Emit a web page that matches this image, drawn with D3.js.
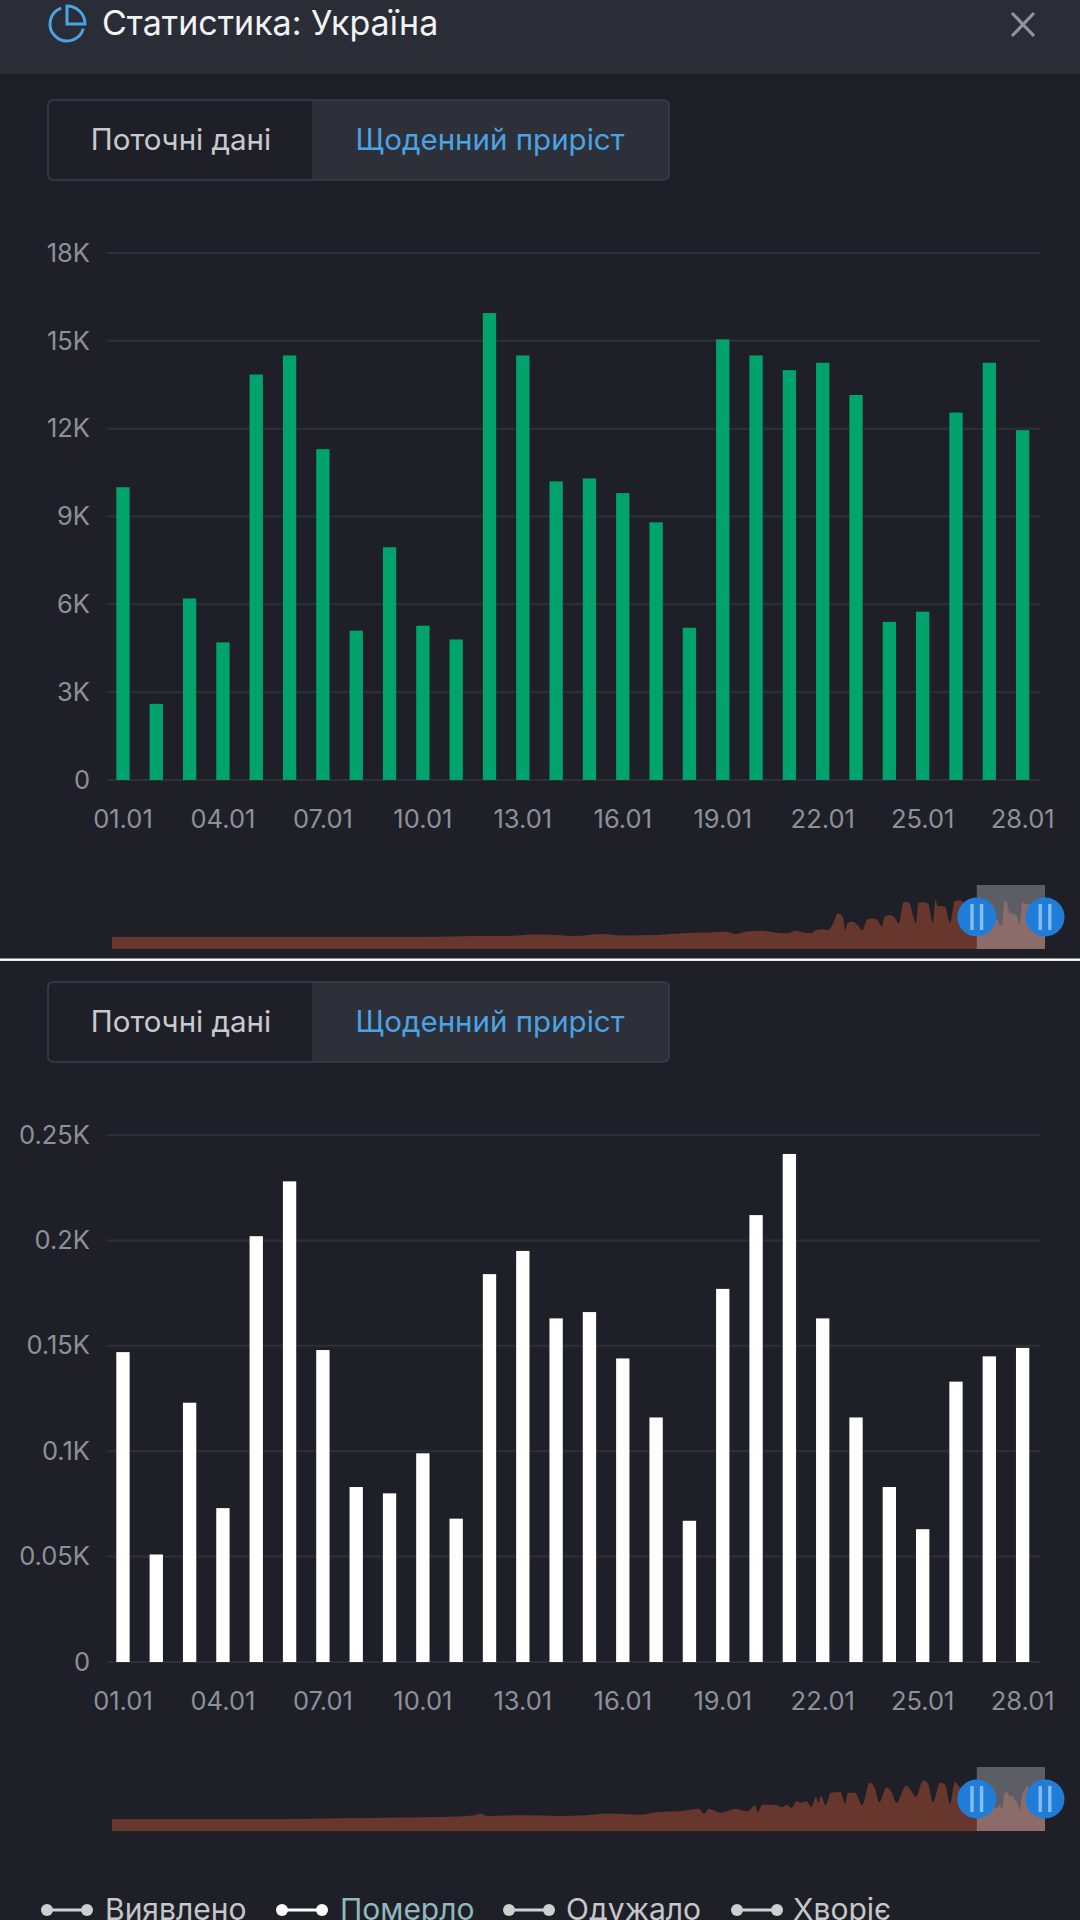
<!DOCTYPE html>
<html>
<head>
<meta charset="utf-8">
<script src="https://cdn.jsdelivr.net/npm/d3@7"></script>
<style>
html, body { margin: 0; padding: 0; background: #1f2027; }
svg { display: block; font-family: Inter, sans-serif; }
.domain { display: none; }
</style>
</head>
<body>
<script>
var days = ["01.01","02.01","03.01","04.01","05.01","06.01","07.01","08.01","09.01","10.01","11.01","12.01","13.01","14.01",
  "15.01","16.01","17.01","18.01","19.01","20.01","21.01","22.01","23.01","24.01","25.01","26.01","27.01","28.01"];
var dayTicks = ["01.01","04.01","07.01","10.01","13.01","16.01","19.01","22.01","25.01","28.01"];

// daily values, thousands
var confirmed = [10.0,2.6,6.2,4.7,13.85,14.5,11.3,5.1,7.95,5.27,4.8,15.95,14.5,10.2,10.3,9.8,8.8,5.2,15.05,14.5,14.0,14.25,13.15,5.4,5.75,12.55,14.25,11.95];
var deaths = [0.147,0.051,0.123,0.073,0.202,0.228,0.148,0.083,0.080,0.099,0.068,0.184,0.195,0.163,0.166,0.144,0.116,0.067,0.177,0.212,0.241,0.163,0.116,0.083,0.063,0.133,0.145,0.149];

var confirmedTicks = [0,3,6,9,12,15,18];
var confirmedLabels = ["0","3K","6K","9K","12K","15K","18K"];
var deathTicks = [0,0.05,0.1,0.15,0.2,0.25];
var deathLabels = ["0","0.05K","0.1K","0.15K","0.2K","0.25K"];

// overview strip before 01.01: day number since the start of the strip, value
var confirmedOverviewDays = [0,100,135,149,162,173,182,190,201,210,224,234,245,252,256,260,267,272,275,278,280,284,287,289,292,294,296,298,300,301,302,304,306,308,310,312,314,316,317,319,321,323,325,327,329,330,331,333,335,337,338,339,342,344,346,348,352];
var confirmedOverview = [0,0,0.1,0.4,0.4,1.1,0.9,0.4,1.3,0.7,0.9,1.6,1.9,2.3,1.3,2.3,2.7,1.9,1.6,1.6,2.7,1.9,1.6,3.0,3.4,3.0,5.9,10.2,8.8,3.0,6.2,6.6,5.2,3.0,7.6,8.0,7.6,4.5,8.5,9.5,8.8,5.9,15.2,15.2,8.8,5.9,14.8,15.2,14.5,6.2,15.9,13.4,13.1,6.2,15.7,15.9,12];
var deathOverviewDays = [0,60,105,135,149,151,154,169,183,195,203,217,224,234,241,243,245,250,256,261,264,265,267,272,275,277,279,281,283,285,287,289,290,291,293,295,299,301,302,305,308,311,313,315,318,320,322,326,328,330,333,335,337,340,342,344,346,348,352];
var deathOverview = [0,0,0.008,0.014,0.027,0.039,0.022,0.027,0.022,0.027,0.039,0.031,0.05,0.058,0.075,0.039,0.075,0.046,0.075,0.055,0.099,0.05,0.104,0.104,0.087,0.104,0.08,0.128,0.118,0.128,0.087,0.159,0.118,0.171,0.099,0.19,0.195,0.111,0.19,0.19,0.099,0.263,0.231,0.123,0.231,0.195,0.118,0.243,0.207,0.159,0.28,0.255,0.123,0.263,0.248,0.111,0.267,0.231,0.2];
var overviewLength = 383;
var janStart = 355;

var legendNames = ["Виявлено","Померло","Одужало","Хворіє"];
var legendColors = ["#c6c7ca","#8fb9bd","#c6c7ca","#c6c7ca"];
var legendMarkers = ["#cfcfcf","#ffffff","#cfcfcf","#cfcfcf"];
var legendMarkerX = [41,276,503,731];
var legendTextX = [105,340,566,793];

var width = 1080, height = 1920;
var svg = d3.select("body").append("svg").attr("width", width).attr("height", height);

// header
svg.append("rect").attr("width", width).attr("height", height).attr("fill", "#1f2027");
svg.append("rect").attr("width", width).attr("height", 74).attr("fill", "#2a2d35");

var icon = svg.append("g").attr("transform", "translate(67,24)")
  .attr("fill", "none").attr("stroke", "#4ba3e3").attr("stroke-width", 3);
icon.append("path").attr("d", d3.arc()({ innerRadius: 17, outerRadius: 17, startAngle: 1.85, endAngle: 5.93 }));
icon.append("path").attr("d", "M0,-18V0H18A18,18 0 0 0 0,-18Z");

svg.append("text").attr("x", 102).attr("y", 35).attr("font-size", 34).attr("fill", "#f2f3f5").text("Статистика: Україна");
svg.append("path").attr("d", "M1012,13L1034,36M1034,13L1012,36").attr("stroke", "#90939c").attr("stroke-width", 3.2);

function drawPanel(top, values, ticks, labels, yMax, barColor, overviewDays, overview, overviewMin) {
  var g = svg.append("g").attr("transform", "translate(0," + top + ")");

  // tab switch
  g.append("rect").attr("x", 48).attr("y", 100).attr("width", 621).attr("height", 80).attr("rx", 5)
    .attr("fill", "#1f2027");
  g.append("path").attr("d", "M312,100H664a5,5 0 0 1 5,5V175a5,5 0 0 1 -5,5H312Z").attr("fill", "#2d3039");
  g.append("rect").attr("x", 48).attr("y", 100).attr("width", 621).attr("height", 80).attr("rx", 5)
    .attr("fill", "none").attr("stroke", "#3b3e47").attr("stroke-width", 1.6);
  g.append("text").attr("x", 181).attr("y", 150).attr("text-anchor", "middle").attr("font-size", 29.5)
    .attr("fill", "#c9cacf").text("Поточні дані");
  g.append("text").attr("x", 490).attr("y", 150).attr("text-anchor", "middle").attr("font-size", 29.5)
    .attr("fill", "#4ba3e3").text("Щоденний приріст");

  var x = d3.scaleBand().domain(days).range([106.3, 1039.3]).paddingInner(0.6).paddingOuter(0.3);
  var y = d3.scaleLinear().domain([0, yMax]).range([780, 253]);

  var yAxis = d3.axisLeft(y).tickValues(ticks).tickSize(0).tickPadding(0)
    .tickFormat(function (d, i) { return labels[i]; });
  var ya = g.append("g").attr("transform", "translate(90,0)").call(yAxis);
  ya.selectAll("text").attr("font-size", 25.5).attr("font-family", "Inter, sans-serif").attr("fill", "#8d909b");

  g.append("g").selectAll("line").data(ticks).join("line")
    .attr("x1", 107).attr("x2", 1040)
    .attr("y1", function (d) { return y(d); }).attr("y2", function (d) { return y(d); })
    .attr("stroke", "#2e3039").attr("stroke-width", 2);

  g.append("g").selectAll("rect").data(values).join("rect")
    .attr("x", function (d, i) { return x(days[i]); })
    .attr("width", x.bandwidth())
    .attr("y", function (d) { return y(d); })
    .attr("height", function (d) { return y(0) - y(d); })
    .attr("fill", barColor);

  var xAxis = d3.axisBottom(x).tickValues(dayTicks).tickSize(0).tickPadding(30);
  var xa = g.append("g").attr("transform", "translate(0,780)").call(xAxis);
  xa.selectAll("text").attr("font-size", 25.5).attr("font-family", "Inter, sans-serif").attr("fill", "#8d909b");

  // overview strip, the last 28 days are the bars above
  var ox = d3.scaleLinear().domain([0, overviewLength]).range([112, 1045]);
  var oy = d3.scaleLinear().domain([overviewMin, 0]).range([949, 937]);
  var all = overviewDays.map(function (d, i) { return [d, overview[i]]; })
    .concat(values.map(function (d, i) { return [janStart + i * 28 / 27, d]; }));
  var area = d3.area().x(function (d) { return ox(d[0]); }).y0(949).y1(function (d) { return oy(d[1]); })
    .curve(d3.curveMonotoneX);
  g.append("path").datum(all).attr("d", area).attr("fill", "#67362d");

  g.append("rect").attr("x", ox(janStart)).attr("y", 885).attr("width", ox(overviewLength) - ox(janStart)).attr("height", 64)
    .attr("fill", "#c8c8d0").attr("fill-opacity", 0.37);

  [janStart, overviewLength].forEach(function (d) {
    var h = g.append("g").attr("transform", "translate(" + ox(d) + ",917)");
    h.append("circle").attr("r", 19.5).attr("fill", "#1f7dd8");
    h.append("rect").attr("x", -6.5).attr("y", -13).attr("width", 3.4).attr("height", 26).attr("fill", "#83bdf0");
    h.append("rect").attr("x", 3.1).attr("y", -13).attr("width", 3.4).attr("height", 26).attr("fill", "#83bdf0");
  });
}

drawPanel(0, confirmed, confirmedTicks, confirmedLabels, 18, "#00a36c", confirmedOverviewDays, confirmedOverview, -5.2);

// white separator between the two screenshots
svg.append("rect").attr("y", 958.5).attr("width", width).attr("height", 2.4).attr("fill", "#ffffff");

drawPanel(882, deaths, deathTicks, deathLabels, 0.25, "#ffffff", deathOverviewDays, deathOverview, -0.087);

// legend
var legend = svg.append("g").selectAll("g").data(legendNames).join("g");
legend.append("line")
  .attr("x1", function (d, i) { return legendMarkerX[i] + 6; })
  .attr("x2", function (d, i) { return legendMarkerX[i] + 46; })
  .attr("y1", 1910).attr("y2", 1910)
  .attr("stroke", function (d, i) { return legendMarkers[i]; }).attr("stroke-width", 3);
[6, 46].forEach(function (dx) {
  legend.append("circle")
    .attr("cx", function (d, i) { return legendMarkerX[i] + dx; })
    .attr("cy", 1910).attr("r", 6)
    .attr("fill", function (d, i) { return legendMarkers[i]; });
});
legend.append("text")
  .attr("x", function (d, i) { return legendTextX[i]; })
  .attr("y", 1920).attr("font-size", 30)
  .attr("fill", function (d, i) { return legendColors[i]; })
  .text(function (d) { return d; });
</script>
</body>
</html>
